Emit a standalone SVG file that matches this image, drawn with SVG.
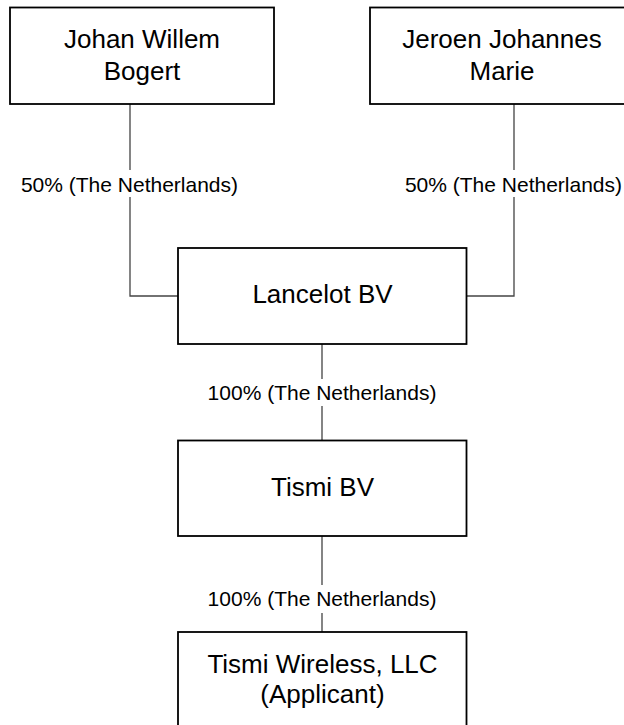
<svg xmlns="http://www.w3.org/2000/svg" width="624" height="725" viewBox="0 0 624 725">
<style>
.box{fill:#fff;stroke:#000;stroke-width:1.8}
.name{font-family:"Liberation Sans",Arial,sans-serif;font-size:26px;fill:#000;text-anchor:middle}
.lbl{font-family:"Liberation Sans",Arial,sans-serif;font-size:21px;fill:#000;text-anchor:middle}
.con{fill:none;stroke:#444;stroke-width:1.3}
</style>
<rect width="624" height="725" fill="#fff"/>
<g id="connectors">
<path class="con" d="M130 104V170M130 197V296H178"/>
<path class="con" d="M514 104V170M514 197V296H466.5"/>
<path class="con" d="M322 344V379M322 406V440.5"/>
<path class="con" d="M322 536V585M322 613V632"/>
<text class="lbl" x="129.5" y="192">50% (The Netherlands)</text>
<text class="lbl" x="513.5" y="192">50% (The Netherlands)</text>
<text class="lbl" x="322" y="400">100% (The Netherlands)</text>
<text class="lbl" x="322" y="606">100% (The Netherlands)</text>
</g>
<g id="johan">
<rect class="box" x="10" y="7.5" width="264" height="96.5"/>
<text class="name" x="142" y="48">Johan Willem</text>
<text class="name" x="142" y="80">Bogert</text>
</g>
<g id="jeroen">
<rect class="box" x="370" y="7.5" width="265" height="96.5"/>
<text class="name" x="502" y="48">Jeroen Johannes</text>
<text class="name" x="502" y="80">Marie</text>
</g>
<g id="lancelot">
<rect class="box" x="178" y="248" width="288.5" height="96"/>
<text class="name" x="322.5" y="303">Lancelot BV</text>
</g>
<g id="tismi-bv">
<rect class="box" x="178" y="440.5" width="288.5" height="95.5"/>
<text class="name" x="322.5" y="496">Tismi BV</text>
</g>
<g id="tismi-wireless">
<rect class="box" x="178" y="632" width="288.5" height="120"/>
<text class="name" x="322.5" y="672.5">Tismi Wireless, LLC</text>
<text class="name" x="322.5" y="702.5">(Applicant)</text>
</g>
</svg>
